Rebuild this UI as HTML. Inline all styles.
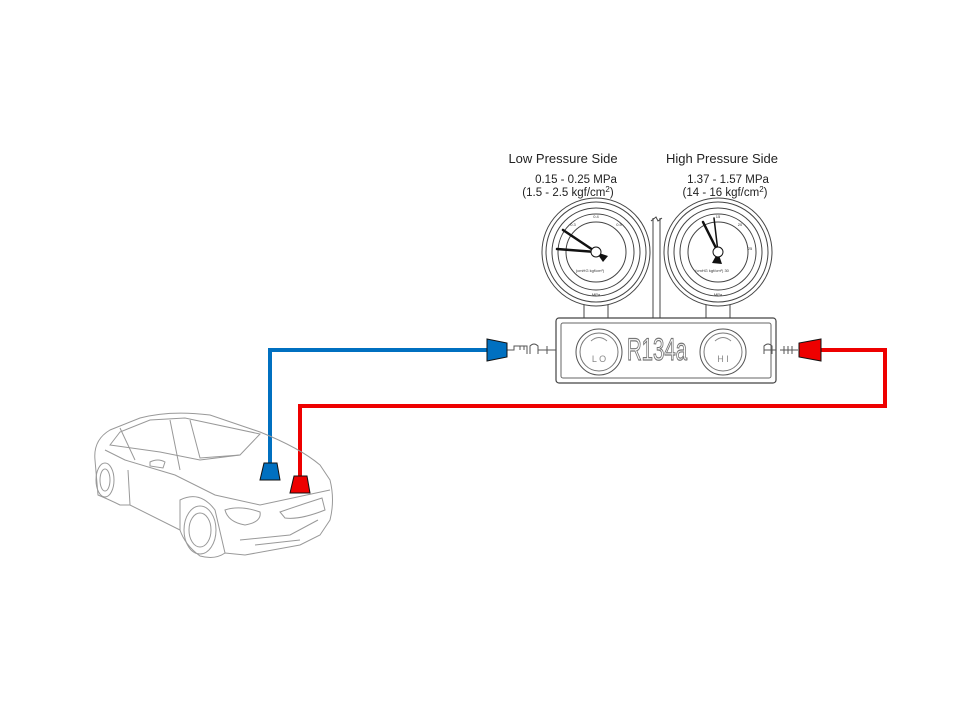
<!DOCTYPE html>
<html><head><meta charset="utf-8"><style>
html,body{margin:0;padding:0;background:#fff;}
svg{display:block;}
text{font-family:"Liberation Sans",sans-serif;}
</style></head><body>
<svg width="960" height="720" viewBox="0 0 960 720" xmlns="http://www.w3.org/2000/svg">
<rect width="960" height="720" fill="#fff"/>
<text x="563" y="163" font-size="13" text-anchor="middle" fill="#222">Low Pressure Side</text>
<text x="722" y="163" font-size="13" text-anchor="middle" fill="#222">High Pressure Side</text>
<text x="576" y="183" font-size="11.5" text-anchor="middle" fill="#222">0.15 - 0.25 MPa</text>
<text x="568" y="196" font-size="11.5" text-anchor="middle" fill="#222">(1.5 - 2.5 kgf/cm<tspan font-size="8" dy="-4">2</tspan><tspan dy="4">)</tspan></text>
<text x="728" y="183" font-size="11.5" text-anchor="middle" fill="#222">1.37 - 1.57 MPa</text>
<text x="725" y="196" font-size="11.5" text-anchor="middle" fill="#222">(14 - 16 kgf/cm<tspan font-size="8" dy="-4">2</tspan><tspan dy="4">)</tspan></text>

<g stroke="#444" fill="none" stroke-width="1">
<line x1="653" y1="218" x2="653" y2="318"/><line x1="660" y1="218" x2="660" y2="318"/>
<path d="M651 221 L656 217 L658 221 L662 218"/>
</g>
<g stroke="#444" fill="#fff" stroke-width="1">
<rect x="584" y="298" width="24" height="20"/>
<rect x="706" y="298" width="24" height="20"/>
<circle cx="596" cy="252" r="54"/><circle cx="596" cy="252" r="50"/><circle cx="596" cy="252" r="44"/>
<circle cx="596" cy="252" r="38"/><circle cx="596" cy="252" r="30"/>
<circle cx="718" cy="252" r="54"/><circle cx="718" cy="252" r="50"/><circle cx="718" cy="252" r="44"/>
<circle cx="718" cy="252" r="38"/><circle cx="718" cy="252" r="30"/>
</g>
<g font-size="4" fill="#333" text-anchor="middle">
<text x="596" y="218">0.4</text><text x="573" y="226">0.3</text><text x="619" y="226">0.5</text>
<text x="590" y="272">(cmHG kgf/cm²)</text><text x="596" y="296">MPa</text>
<text x="718" y="218">15</text><text x="740" y="226">20</text><text x="750" y="250">25</text>
<text x="712" y="272">(cmHG kgf/cm²) 30</text><text x="718" y="296">MPa</text>
</g>
<g stroke="#111" stroke-width="2.5" stroke-linecap="round">
<line x1="596" y1="252" x2="563" y2="230"/><line x1="596" y1="252" x2="557" y2="249"/>
<line x1="718" y1="252" x2="703" y2="222"/><line x1="718" y1="252" x2="714" y2="218" stroke-width="1.5"/>
</g>
<polygon points="596,252 608,256 603,262" fill="#111"/>
<polygon points="718,252 722,264 712,263" fill="#111"/>
<circle cx="596" cy="252" r="5" fill="#fff" stroke="#111"/>
<circle cx="718" cy="252" r="5" fill="#fff" stroke="#111"/>

<rect x="556" y="318" width="220" height="65" rx="3" fill="#fff" stroke="#444" stroke-width="1.2"/>
<rect x="561" y="323" width="210" height="55" rx="2" fill="none" stroke="#666"/>
<circle cx="599" cy="352" r="23" fill="#fff" stroke="#555"/><circle cx="599" cy="352" r="19" fill="none" stroke="#777"/>
<circle cx="723" cy="352" r="23" fill="#fff" stroke="#555"/><circle cx="723" cy="352" r="19" fill="none" stroke="#777"/>
<text x="599" y="362" font-size="9" text-anchor="middle" fill="#888">L  O</text>
<text x="723" y="362" font-size="9" text-anchor="middle" fill="#888">H  I</text>
<path d="M591 341 Q599 334 607 341 M715 341 Q723 334 731 341" stroke="#888" fill="none"/>
<text transform="translate(657,360) scale(0.85,1.3)" font-size="24" text-anchor="middle" fill="#fff" stroke="#777" stroke-width="0.9">R134a</text>

<g stroke="#555" fill="none" stroke-width="1">
<path d="M507 350 H514 V346 H527 V354 M520 350 V346 M524 350 V346 M530 354 V346 Q534 342 538 346 V354 M538 350 H556 M547 346 V354"/>
<path d="M776 350 H764 V354 V346 Q768 342 772 346 V354 M780 350 H798 M784 346 V354 M788 346 V354 M792 346 V354"/>
</g>
<polyline points="487,350 270,350 270,463" fill="none" stroke="#0070c0" stroke-width="4"/>
<polyline points="821,350 885,350 885,406 300,406 300,476" fill="none" stroke="#ee0000" stroke-width="4"/>
<polygon points="487,339 507,343 507,357 487,361" fill="#0070c0" stroke="#111" stroke-width="1"/>
<polygon points="821,339 821,361 799,357 799,343" fill="#ee0000" stroke="#111" stroke-width="1"/>

<g stroke="#999" fill="none" stroke-width="1">
<path d="M95 460 Q93 440 110 430 L140 418 Q170 410 210 415 L260 432 Q300 448 320 465 L330 480 Q335 500 330 520 L320 535 L300 545 L245 555 L225 553 Q215 560 200 556 Q185 545 180 530 L130 505 L120 505 Q110 500 98 495 Z"/>
<path d="M110 445 L120 432 L150 420 L185 418 L260 434 L240 455 L200 460 L160 452 Z"/>
<path d="M105 450 L125 460 L175 475 L215 495 L260 505 L330 490"/>
<path d="M120 428 L135 460 M170 420 L180 470 M190 420 L200 458 L240 455"/>
<path d="M130 505 L128 470 M180 530 L180 500 Q200 490 215 510 L225 553"/>
<ellipse cx="200" cy="530" rx="16" ry="24"/><ellipse cx="200" cy="530" rx="11" ry="17"/>
<ellipse cx="105" cy="480" rx="9" ry="17"/><ellipse cx="105" cy="480" rx="5" ry="11"/>
<path d="M225 510 Q240 505 260 512 Q262 522 245 525 Q228 522 225 510 Z"/>
<path d="M280 512 Q300 505 322 498 L325 510 Q300 520 285 518 Z"/>
<path d="M240 540 L290 535 L318 520 M255 545 L300 540"/>
<path d="M150 462 Q158 458 165 462 L163 468 L150 466 Z"/>
</g>
<polygon points="264,463 277,463 280,480 260,480" fill="#0070c0" stroke="#111"/>
<polygon points="294,476 307,476 310,493 290,493" fill="#ee0000" stroke="#111"/>
</svg>
</body></html>
